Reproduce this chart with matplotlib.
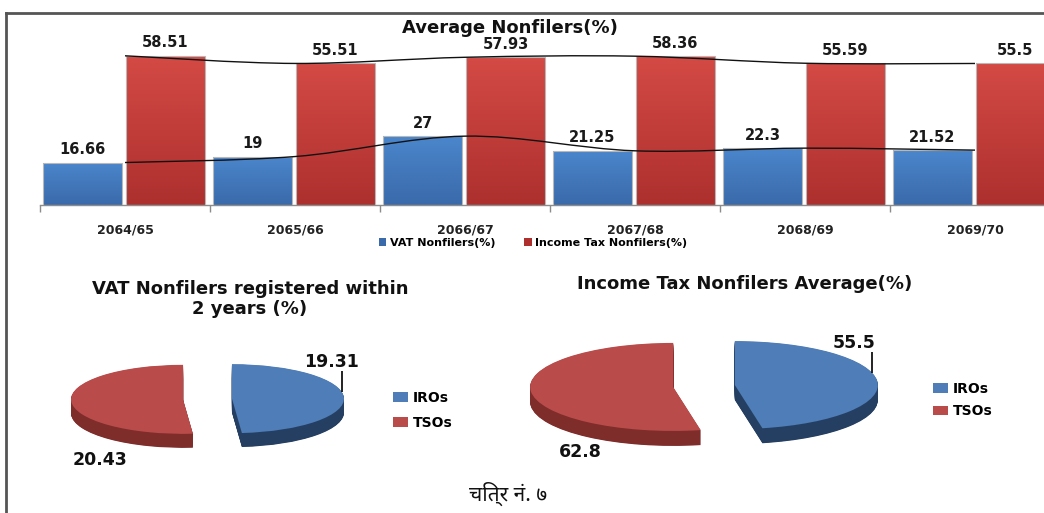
import numpy as np
import matplotlib
matplotlib.use("Agg")
import matplotlib.pyplot as plt
from matplotlib.colors import LinearSegmentedColormap
from matplotlib.path import Path
from matplotlib.patches import PathPatch, Patch
from matplotlib.lines import Line2D

# ---------------- data ----------------
years = ["2064/65", "2065/66", "2066/67", "2067/68", "2068/69", "2069/70"]
vat_nonfilers = [16.66, 19, 27, 21.25, 22.3, 21.52]
income_tax_nonfilers = [58.51, 55.51, 57.93, 58.36, 55.59, 55.5]
bar_series = ["VAT Nonfilers(%)", "Income Tax Nonfilers(%)"]

pie_labels = ["IROs", "TSOs"]
vat_pie_values = [19.31, 20.43]
it_pie_values = [55.5, 62.8]

title_bar = "Average Nonfilers(%)"
title_pie1 = "VAT Nonfilers registered within\n2 years (%)"
title_pie2 = "Income Tax Nonfilers Average(%)"
caption = "चित्र नं. ७"

# ---------------- styles ----------------
W, H = 1044, 513
plt.rcParams["font.family"] = ["DejaVu Sans"]
fig = plt.figure(figsize=(W / 100, H / 100), dpi=100)
fig.patch.set_facecolor("white")


def px_axes(x0, y0, x1, y1):
    return fig.add_axes([x0 / W, 1 - y1 / H, (x1 - x0) / W, (y1 - y0) / H])


BLUE_TOP, BLUE_BOT = "#4b86cc", "#3a6aaa"
RED_TOP, RED_BOT = "#d44a45", "#ad302e"

# ---------------- bar chart ----------------
ax = px_axes(40, 205 - 178.5, 1044, 205)
x = np.arange(len(years))
bw = 0.464
b1 = ax.bar(x - 0.25, vat_nonfilers, bw, color="none", edgecolor="#b8b8b8",
            linewidth=0.8, zorder=3, label=bar_series[0])
b2 = ax.bar(x + 0.238, income_tax_nonfilers, bw, color="none", edgecolor="#b8b8b8",
            linewidth=0.8, zorder=3, label=bar_series[1])


def gradient_fill(ax, bars, top, bot):
    cmap = LinearSegmentedColormap.from_list("g", [bot, top])
    grad = np.linspace(0, 1, 256).reshape(-1, 1)
    for b in bars:
        bx, by, bwid, bh = b.get_x(), b.get_y(), b.get_width(), b.get_height()
        im = ax.imshow(grad, extent=[bx, bx + bwid, by, by + bh], origin="lower",
                       cmap=cmap, aspect="auto", zorder=2.5, interpolation="bilinear")
        im.set_clip_path(b)


gradient_fill(ax, b1, BLUE_TOP, BLUE_BOT)
gradient_fill(ax, b2, RED_TOP, RED_BOT)

ax.set_xlim(-0.5, -0.5 + 1004 / 170)
ax.set_ylim(0, 70)
ax.set_aspect("auto")

for bars, vals in ((b1, vat_nonfilers), (b2, income_tax_nonfilers)):
    ax.bar_label(bars, labels=[f"{v:g}" for v in vals], padding=4,
                 fontsize=10.5, fontweight="bold", color="#1a1a1a")


def smooth_line(ax, xs, ys, **kw):
    pts = np.column_stack([xs, ys]).astype(float)
    ext = np.vstack([pts[0], pts, pts[-1]])
    verts = [tuple(pts[0])]
    codes = [Path.MOVETO]
    for i in range(1, len(ext) - 2):
        p0, p1, p2, p3 = ext[i - 1], ext[i], ext[i + 1], ext[i + 2]
        c1 = p1 + (p2 - p0) / 6.0
        c2 = p2 - (p3 - p1) / 6.0
        verts += [tuple(c1), tuple(c2), tuple(p2)]
        codes += [Path.CURVE4] * 3
    ax.add_patch(PathPatch(Path(verts, codes), facecolor="none", **kw))


smooth_line(ax, x, vat_nonfilers, edgecolor="#111111", linewidth=1.0, zorder=4)
smooth_line(ax, x, income_tax_nonfilers, edgecolor="#111111", linewidth=1.0, zorder=4)

for s in ("top", "right", "left"):
    ax.spines[s].set_visible(False)
ax.spines["bottom"].set_color("#8c8c8c")
ax.spines["bottom"].set_linewidth(1.0)
ax.set_yticks([])
ax.set_xticks(x)
ax.set_xticklabels(years, fontsize=9, fontweight="bold", color="#222222")
ax.tick_params(axis="x", which="major", length=0, pad=13)
ax.set_xticks(np.arange(len(years)) - 0.5, minor=True)
ax.tick_params(axis="x", which="minor", length=5, color="#8c8c8c", width=1)
ax.patch.set_alpha(0)

fig.text(510 / W, 1 - 28 / H, title_bar, ha="center", va="center",
         fontsize=13, fontweight="bold", color="#111111")

leg_handles = [Patch(facecolor=BLUE_BOT), Patch(facecolor=RED_BOT)]
fig.legend(leg_handles, bar_series, loc="center", bbox_to_anchor=(533 / W, 1 - 243 / H),
           ncol=2, frameon=False, prop=dict(size=8, weight="bold"),
           handlelength=0.7, handleheight=0.7, handletextpad=0.3, columnspacing=2.6,
           borderpad=0)


# ---------------- pies ----------------
def pseudo3d_pie(ax, values, top_colors, side_colors, explode, depth, n=30):
    exp = [explode] * len(values)
    for k in range(n, 0, -1):
        ax.pie(values, colors=side_colors, startangle=90, counterclock=False,
               explode=exp, center=(0, -depth * k / n), wedgeprops=dict(linewidth=0))
    wedges, _ = ax.pie(values, colors=top_colors, startangle=90, counterclock=False,
                       explode=exp, center=(0, 0), wedgeprops=dict(linewidth=0))
    return wedges


PIE_TOP = ["#4e7db8", "#b94c4a"]
PIE_SIDE = ["#253f62", "#7e2d2b"]


def make_pie(box, cx, cy, rh, rv, explode_px, depth_px, values, title, title_xy,
             lab_in, lab_out, legend_xy, legend_spacing):
    x0, y0, x1, y1 = box
    axp = px_axes(x0, y0, x1, y1)
    wedges = pseudo3d_pie(axp, values, PIE_TOP, PIE_SIDE, explode_px / rh, depth_px / rv)
    axp.set_aspect("auto")
    axp.set_xlim((x0 - cx) / rh, (x1 - cx) / rh)
    axp.set_ylim((cy - y1) / rv, (cy - y0) / rv)
    axp.axis("off")
    # leader line + label for IROs
    th = np.deg2rad(lab_in[0])
    ex = explode_px / rh + np.cos(th)
    ey = np.sin(th)
    axp.plot([ex, ex], [ey, ey + 21 / rv], color="#111111", lw=1.3, solid_capstyle="butt")
    axp.text(ex + lab_in[1] / rh, ey + (21 + 9) / rv, f"{values[0]:g}", ha="center",
             va="center", fontsize=12.5, fontweight="bold", color="#111111")
    # label for TSOs
    axp.text((lab_out[0] - cx) / rh, (cy - lab_out[1]) / rv, f"{values[1]:g}",
             ha="center", va="center", fontsize=12.5, fontweight="bold", color="#111111")
    fig.text(title_xy[0] / W, 1 - title_xy[1] / H, title, ha="center", va="center",
             fontsize=13, fontweight="bold", color="#111111", linespacing=1.2)
    fig.legend(wedges, pie_labels, loc="center left",
               bbox_to_anchor=(legend_xy[0] / W, 1 - legend_xy[1] / H),
               frameon=False, prop=dict(size=10, weight="bold"),
               handlelength=1.05, handleheight=0.72, handletextpad=0.4,
               labelspacing=legend_spacing, borderpad=0, borderaxespad=0)


make_pie((55, 335, 370, 472), 207.5, 399, 112, 34.5, 24.5, 14, vat_pie_values,
         title_pie1, (250, 299), (12, -10), (100, 460), (393, 410.5), 0.8)
make_pie((515, 318, 905, 472), 704, 386, 143, 44, 31, 15, it_pie_values,
         title_pie2, (745, 284), (17, -18), (580, 452), (933, 400), 0.62)

# ---------------- caption & frame ----------------
fig.text(508 / W, 1 - 494 / H, caption, ha="center", va="center", fontsize=15,
         fontweight="bold", color="#111111",
         family=["Noto Sans Devanagari", "Lohit Devanagari", "FreeSans", "Noto Sans", "DejaVu Sans"])

fig.add_artist(Line2D([6 / W, 6 / W], [0, 1 - 13 / H], color="#555555", lw=2))
fig.add_artist(Line2D([6 / W, 1], [1 - 13 / H, 1 - 13 / H], color="#555555", lw=2))

fig.savefig("out.png", dpi=100)
